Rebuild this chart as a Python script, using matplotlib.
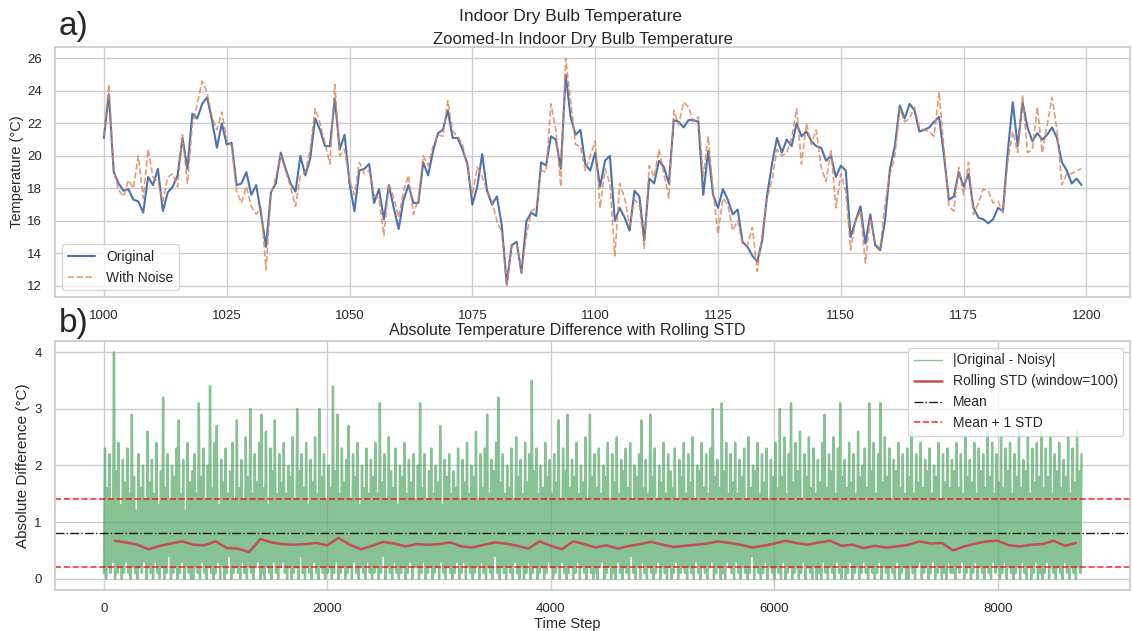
import numpy as np
import matplotlib
matplotlib.use("Agg")
import matplotlib.pyplot as plt
import seaborn as sns

sns.set_theme(style="whitegrid")
plt.rcParams["font.family"] = ["Liberation Sans", "DejaVu Sans"]

# zoomed window, time steps 1000-1199
zoom_start = 1000
temp_original = [
    21.1, 23.8, 19.0, 18.3, 17.85, 17.95, 17.3, 17.2, 16.5, 18.7,
    18.2, 19.2, 16.6, 17.75, 18.1, 18.8, 21.1, 19.2, 22.6, 22.3,
    23.2, 23.6, 22.2, 20.5, 22.0, 20.7, 20.8, 18.2, 18.3, 19.0,
    17.6, 18.2, 16.4, 14.4, 17.75, 18.3, 20.2, 19.2, 18.3, 17.8,
    20.0, 18.8, 19.85, 22.3, 21.6, 20.6, 20.6, 23.5, 20.4, 21.3,
    18.3, 16.6, 19.1, 19.2, 19.5, 17.1, 17.95, 16.1, 18.2, 16.8,
    15.5, 17.3, 18.2, 17.1, 17.1, 19.6, 18.8, 20.3, 21.4, 21.6,
    22.8, 21.1, 21.1, 20.4, 19.5, 17.0, 18.1, 20.1, 17.85, 17.0,
    17.5, 15.7, 12.1, 14.5, 14.7, 12.8, 16.0, 16.5, 16.3, 19.6,
    19.4, 21.2, 21.0, 19.2, 25.0, 22.4, 21.3, 21.6, 19.5, 19.1,
    20.2, 18.1, 19.7, 20.0, 16.0, 16.8, 16.2, 15.4, 17.85, 17.5,
    14.8, 18.6, 18.3, 19.7, 19.3, 18.3, 22.2, 22.1, 21.75, 22.2,
    22.2, 22.1, 17.6, 20.3, 17.6, 16.8, 17.95, 17.3, 16.4, 16.7,
    14.7, 14.4, 13.85, 13.5, 14.8, 17.6, 19.5, 21.1, 20.2, 21.0,
    20.6, 22.0, 21.2, 21.5, 20.9, 20.6, 20.5, 19.7, 20.0, 18.7,
    19.4, 19.1, 15.0, 16.0, 16.9, 14.6, 16.4, 14.5, 14.2, 16.0,
    19.2, 20.6, 23.1, 22.3, 23.2, 22.8, 21.5, 21.6, 21.75, 22.1,
    22.4, 20.0, 17.3, 17.5, 19.0, 18.1, 18.9, 16.8, 16.2, 16.1,
    15.85, 16.1, 16.8, 16.6, 20.3, 23.3, 20.6, 23.3, 21.75, 20.9,
    21.4, 21.0, 21.3, 21.75, 21.1, 19.6, 19.1, 18.3, 18.6, 18.2,
]
temp_noisy = [
    21.2, 24.4, 19.1, 17.9, 17.5, 18.5, 18.0, 20.0, 17.4, 20.4,
    18.7, 18.4, 17.2, 18.7, 18.9, 18.1, 21.3, 18.3, 21.9, 23.2,
    24.6, 23.9, 22.4, 21.6, 22.7, 21.0, 20.6, 17.85, 17.1, 18.1,
    16.9, 16.4, 16.8, 13.0, 17.6, 18.7, 20.0, 19.1, 18.1, 16.9,
    18.8, 19.0, 20.4, 22.9, 22.0, 20.8, 19.5, 24.4, 20.0, 20.4,
    18.5, 17.6, 19.6, 18.9, 19.1, 17.6, 17.4, 15.1, 18.3, 17.4,
    16.2, 17.85, 18.8, 16.4, 17.3, 20.0, 19.4, 20.6, 21.3, 21.2,
    23.4, 21.5, 21.2, 20.7, 19.3, 17.6, 19.3, 18.7, 17.85, 17.2,
    16.0, 15.3, 12.0, 14.4, 14.6, 12.9, 15.1, 16.6, 16.8, 19.1,
    19.0, 23.2, 21.6, 18.1, 26.0, 23.4, 20.7, 20.6, 19.1, 20.0,
    20.9, 16.8, 19.2, 18.3, 13.85, 18.3, 17.4, 15.7, 17.3, 17.0,
    14.3, 19.4, 18.7, 20.4, 18.9, 17.4, 22.8, 21.9, 23.3, 23.0,
    22.1, 22.4, 18.7, 21.2, 17.85, 15.2, 17.4, 17.0, 15.4, 16.0,
    14.6, 14.5, 15.6, 12.9, 15.2, 17.4, 18.5, 20.4, 20.0, 20.2,
    21.1, 22.9, 19.5, 22.0, 20.7, 21.6, 19.3, 18.4, 20.4, 16.8,
    18.9, 17.85, 14.2, 16.0, 16.6, 13.4, 16.2, 14.6, 14.3, 17.0,
    18.9, 20.0, 22.9, 22.1, 22.3, 23.0, 21.75, 21.6, 21.5, 21.2,
    23.95, 20.4, 16.9, 16.6, 19.3, 17.6, 19.6, 16.4, 17.1, 17.95,
    17.85, 17.1, 17.2, 16.5, 19.7, 21.5, 20.2, 23.75, 20.2, 20.4,
    23.0, 20.2, 21.9, 23.6, 21.6, 18.2, 18.9, 18.9, 19.1, 19.2,
]

# |original - noisy| over the full year, sampled every 10 steps:
# alternating low / high readings of the band
diff_troughs = [
    0.1, 0.0, 0.2, 0.1, 0.3, 0.0, 0.1, 0.2, 0.0, 0.1, 0.3, 0.1, 0.0, 0.2, 0.1, 0.0, 0.2, 0.1, 0.3, 0.0,
    0.2, 0.1, 0.0, 0.3, 0.1, 0.0, 0.2, 0.0, 0.1, 0.4, 0.0, 0.1, 0.2, 0.0, 0.1, 0.3, 0.0, 0.2, 0.1, 0.0,
    0.0, 0.2, 0.1, 0.0, 0.3, 0.1, 0.0, 0.2, 0.1, 0.0, 0.1, 0.3, 0.0, 0.2, 0.0, 0.1, 0.4, 0.0, 0.1, 0.2,
    0.1, 0.0, 0.3, 0.1, 0.0, 0.2, 0.1, 0.0, 0.2, 0.3, 0.0, 0.1, 0.0, 0.2, 0.1, 0.0, 0.3, 0.1, 0.0, 0.2,
    0.3, 0.1, 0.0, 0.2, 0.0, 0.1, 0.2, 0.0, 0.4, 0.1, 0.0, 0.2, 0.1, 0.0, 0.3, 0.1, 0.0, 0.2, 0.1, 0.0,
    0.1, 0.2, 0.0, 0.1, 0.3, 0.0, 0.1, 0.2, 0.0, 0.1, 0.2, 0.0, 0.3, 0.1, 0.0, 0.2, 0.1, 0.0, 0.3, 0.1,
    0.0, 0.1, 0.2, 0.0, 0.1, 0.4, 0.0, 0.2, 0.1, 0.0, 0.3, 0.1, 0.0, 0.1, 0.2, 0.0, 0.1, 0.3, 0.0, 0.2,
    0.2, 0.0, 0.1, 0.3, 0.0, 0.1, 0.2, 0.0, 0.1, 0.2, 0.0, 0.3, 0.1, 0.0, 0.2, 0.1, 0.0, 0.1, 0.3, 0.0,
    0.1, 0.3, 0.0, 0.2, 0.1, 0.0, 0.1, 0.2, 0.0, 0.3, 0.1, 0.0, 0.2, 0.1, 0.0, 0.4, 0.1, 0.0, 0.2, 0.1,
    0.0, 0.2, 0.1, 0.0, 0.3, 0.1, 0.0, 0.2, 0.0, 0.1, 0.3, 0.0, 0.1, 0.2, 0.0, 0.1, 0.2, 0.0, 0.1, 0.3,
    0.2, 0.0, 0.1, 0.2, 0.0, 0.3, 0.1, 0.0, 0.1, 0.2, 0.0, 0.1, 0.3, 0.0, 0.2, 0.1, 0.0, 0.2, 0.1, 0.0,
    0.1, 0.0, 0.2, 0.3, 0.0, 0.1, 0.2, 0.0, 0.1, 0.0, 0.3, 0.1, 0.0, 0.2, 0.1, 0.0, 0.4, 0.1, 0.0, 0.2,
    0.0, 0.3, 0.1, 0.0, 0.2, 0.1, 0.0, 0.1, 0.3, 0.0, 0.2, 0.1, 0.0, 0.2, 0.0, 0.1, 0.3, 0.0, 0.1, 0.2,
    0.1, 0.0, 0.2, 0.1, 0.0, 0.3, 0.1, 0.0, 0.2, 0.1, 0.0, 0.2, 0.3, 0.0, 0.1, 0.2, 0.0, 0.1, 0.0, 0.3,
    0.2, 0.1, 0.0, 0.3, 0.1, 0.0, 0.2, 0.1, 0.0, 0.1, 0.4, 0.0, 0.2, 0.1, 0.0, 0.1, 0.3, 0.0, 0.2, 0.1,
    0.0, 0.2, 0.1, 0.0, 0.3, 0.0, 0.1, 0.2, 0.0, 0.1, 0.2, 0.0, 0.1, 0.3, 0.0, 0.2, 0.1, 0.0, 0.2, 0.0,
    0.1, 0.0, 0.3, 0.1, 0.0, 0.2, 0.1, 0.0, 0.3, 0.1, 0.0, 0.2, 0.0, 0.1, 0.3, 0.0, 0.1, 0.2, 0.0, 0.1,
    0.3, 0.1, 0.0, 0.2, 0.1, 0.0, 0.1, 0.3, 0.0, 0.2, 0.1, 0.0, 0.2, 0.1, 0.0, 0.3, 0.0, 0.1, 0.2, 0.0,
    0.0, 0.2, 0.1, 0.0, 0.2, 0.3, 0.0, 0.1, 0.2, 0.0, 0.1, 0.3, 0.0, 0.1, 0.2, 0.0, 0.1, 0.0, 0.3, 0.1,
    0.1, 0.0, 0.2, 0.1, 0.3, 0.0, 0.1, 0.2, 0.0, 0.1, 0.3, 0.0, 0.2, 0.1, 0.0, 0.2, 0.1, 0.0, 0.3, 0.1,
    0.2, 0.0, 0.1, 0.3, 0.0, 0.2, 0.1, 0.0, 0.1, 0.2, 0.0, 0.3, 0.1, 0.0, 0.2, 0.0, 0.1, 0.3, 0.0, 0.1,
    0.0, 0.1, 0.3, 0.0, 0.2, 0.1, 0.0, 0.2, 0.1, 0.0, 0.3, 0.1, 0.0, 0.2, 0.1, 0.0, 0.2, 0.1,
]
diff_peaks = [
    2.3, 1.6, 2.2, 1.4, 4.0, 1.9, 2.4, 1.3, 2.1, 1.7, 2.3, 1.5, 2.9, 1.8, 1.2, 2.2, 1.6, 2.0, 1.4, 2.6,
    1.7, 2.1, 1.5, 2.4, 1.3, 1.9, 3.2, 1.6, 2.2, 1.4, 2.0, 1.8, 2.3, 2.8, 1.5, 2.1, 1.2, 2.4, 1.7, 1.9,
    2.2, 1.5, 3.1, 1.8, 2.3, 1.4, 2.0, 3.4, 1.6, 2.4, 2.7, 1.3, 2.1, 1.7, 2.3, 1.5, 1.9, 2.4, 1.4, 2.8,
    1.6, 2.1, 1.4, 2.5, 1.8, 3.0, 1.5, 2.2, 1.7, 2.4, 2.9, 1.6, 2.6, 1.3, 2.3, 1.9, 2.8, 1.5, 2.2, 1.7,
    2.4, 1.5, 2.0, 1.8, 2.5, 1.4, 3.0, 1.9, 2.2, 1.6, 2.4, 1.3, 2.1, 1.7, 2.5, 1.5, 3.0, 1.8, 2.2, 1.4,
    2.0, 1.6, 3.4, 1.9, 2.9, 1.5, 2.3, 1.7, 2.1, 2.7, 1.4, 2.2, 1.8, 2.4, 1.3, 2.0, 1.6, 2.3, 1.5, 2.1,
    1.8, 2.4, 1.5, 3.1, 1.7, 2.2, 1.4, 2.5, 1.9, 1.6, 2.3, 1.3, 2.0, 1.8, 2.4, 1.5, 2.1, 1.7, 2.2, 1.4,
    2.0, 3.1, 1.6, 2.2, 1.4, 1.9, 2.3, 1.5, 2.0, 1.7, 2.7, 1.3, 2.1, 1.8, 2.2, 1.5, 1.9, 1.6, 2.3, 1.4,
    2.1, 1.7, 2.4, 1.5, 2.0, 1.8, 2.6, 1.4, 2.2, 1.6, 2.3, 2.9, 1.5, 2.1, 1.9, 2.4, 3.2, 1.7, 2.2, 1.5,
    2.0, 1.6, 2.3, 1.4, 2.5, 1.8, 2.1, 1.5, 2.4, 1.7, 2.2, 3.5, 1.9, 2.3, 1.5, 2.0, 1.6, 2.4, 1.8, 2.1,
    1.5, 2.2, 1.7, 2.8, 1.4, 2.3, 1.9, 2.9, 1.6, 2.1, 1.8, 2.4, 1.5, 2.0, 1.7, 2.5, 1.4, 2.9, 1.8, 2.2,
    1.6, 2.3, 1.5, 2.0, 1.8, 2.4, 1.4, 2.2, 1.7, 2.5, 1.5, 2.1, 1.9, 2.3, 1.6, 2.4, 1.4, 2.0, 1.8, 2.2,
    2.8, 1.6, 2.1, 1.5, 2.9, 1.8, 2.3, 1.4, 2.0, 1.7, 2.4, 1.5, 2.2, 1.9, 1.6, 2.3, 1.4, 2.1, 1.8, 2.4,
    1.5, 2.2, 1.7, 2.5, 1.4, 2.0, 1.9, 2.4, 1.6, 2.2, 1.5, 2.3, 3.0, 1.8, 2.1, 1.6, 3.1, 1.9, 2.4, 1.5,
    2.2, 1.7, 2.4, 1.5, 2.1, 1.8, 2.3, 1.4, 2.5, 1.6, 2.0, 1.9, 2.4, 1.5, 2.2, 1.7, 2.3, 1.4, 2.1, 1.8,
    2.4, 1.6, 3.0, 1.8, 2.5, 1.5, 2.2, 3.1, 1.7, 2.4, 1.9, 2.6, 1.4, 2.2, 1.8, 2.5, 1.6, 2.3, 1.5, 2.1,
    1.7, 2.4, 2.9, 1.6, 2.2, 1.9, 2.5, 1.5, 2.3, 3.1, 1.8, 2.1, 1.6, 2.4, 1.7, 2.2, 1.5, 2.6, 1.8, 2.0,
    2.3, 1.6, 3.1, 1.9, 2.4, 1.5, 2.2, 3.1, 1.7, 2.5, 1.8, 2.3, 1.4, 2.1, 1.9, 2.4, 1.6, 2.2, 1.5, 2.3,
    1.8, 2.6, 1.5, 2.2, 1.7, 2.4, 1.6, 2.1, 1.9, 2.3, 1.5, 2.0, 1.8, 2.4, 1.4, 2.2, 1.7, 2.3, 1.6, 2.1,
    1.9, 2.4, 1.6, 2.2, 1.5, 2.5, 1.8, 2.1, 1.7, 2.4, 1.5, 2.3, 1.9, 2.2, 1.6, 2.6, 1.8, 2.4, 1.5, 2.2,
    1.7, 2.5, 1.6, 2.3, 1.9, 2.4, 1.5, 2.2, 1.8, 2.6, 1.6, 2.1, 1.9, 2.5, 1.5, 2.3, 1.7, 2.4, 1.8, 2.6,
    1.6, 2.3, 1.8, 2.5, 1.5, 2.2, 1.9, 2.4, 1.6, 2.1, 1.8, 2.5, 1.5, 2.3, 1.7, 2.6, 1.9, 2.2,
]

# rolling std (window=100), one reading every 100 steps from step 100
rolling_std = [
    0.67, 0.64, 0.60, 0.52, 0.58, 0.62, 0.66, 0.60, 0.59, 0.66,
    0.54, 0.53, 0.47, 0.70, 0.64, 0.61, 0.60, 0.61, 0.63, 0.59,
    0.72, 0.60, 0.52, 0.58, 0.65, 0.62, 0.57, 0.61, 0.60, 0.61,
    0.64, 0.57, 0.55, 0.60, 0.64, 0.62, 0.58, 0.53, 0.66, 0.58,
    0.52, 0.66, 0.61, 0.55, 0.59, 0.53, 0.58, 0.61, 0.65, 0.60,
    0.56, 0.58, 0.60, 0.62, 0.66, 0.63, 0.60, 0.55, 0.58, 0.62,
    0.67, 0.63, 0.60, 0.64, 0.67, 0.58, 0.60, 0.54, 0.58, 0.55,
    0.57, 0.60, 0.66, 0.62, 0.63, 0.50, 0.57, 0.62, 0.66, 0.67,
    0.59, 0.57, 0.60, 0.61, 0.67, 0.58, 0.63,
]
diff_mean = 0.80
diff_std = 0.60

zoom_steps = np.arange(zoom_start, zoom_start + len(temp_original))
abs_diff = np.column_stack([diff_troughs, diff_peaks]).ravel()
diff_steps = np.arange(len(abs_diff)) * 10
rolling_steps = np.arange(1, len(rolling_std) + 1) * 100

fig = plt.figure(figsize=(11.32, 6.31), dpi=100)
ax1 = fig.add_axes([0.0486, 0.529, 0.950, 0.3965])
ax2 = fig.add_axes([0.0486, 0.065, 0.950, 0.3946])

# a) zoomed-in temperatures
ax1.plot(zoom_steps, temp_original, color="#4c72b0", lw=1.5, label="Original")
ax1.plot(zoom_steps, temp_noisy, color="#dd8452", lw=1.2, ls="--", alpha=0.8, label="With Noise")
ax1.set_xticks(np.arange(1000, 1201, 25))
ax1.set_yticks(np.arange(12, 27, 2))
ax1.set_ylabel("Temperature (°C)", fontsize=10.5, labelpad=2)
ax1.set_title("Zoomed-In Indoor Dry Bulb Temperature", fontsize=12, pad=2, x=0.491)
ax1.legend(loc="lower left", fontsize=10)
ax1.tick_params(labelsize=9.5)

# b) absolute difference with rolling std
ax2.plot(diff_steps, abs_diff, color="#55a868", lw=1.7, alpha=0.7, label="|Original - Noisy|")
ax2.plot(rolling_steps, rolling_std, color="#c44e52", lw=1.8, label="Rolling STD (window=100)")
ax2.axhline(diff_mean, color="k", ls="-.", lw=1.0, label="Mean")
ax2.axhline(diff_mean + diff_std, color="red", ls="--", lw=1.2, alpha=0.8, label="Mean + 1 STD")
ax2.axhline(diff_mean - diff_std, color="red", ls="--", lw=1.2, alpha=0.8)
ax2.set_xticks(np.arange(0, 8001, 2000))
ax2.set_yticks(np.arange(0, 5, 1))
ax2.set_xlabel("Time Step", fontsize=10.5, labelpad=1, x=0.476)
ax2.set_ylabel("Absolute Difference (°C)", fontsize=11, labelpad=3)
ax2.set_title("Absolute Temperature Difference with Rolling STD", fontsize=11.5, pad=4, x=0.476)
leg = ax2.legend(loc="upper right", fontsize=10)
for line in leg.get_lines()[:1]:
    line.set_linewidth(1.0)
ax2.tick_params(labelsize=9.5)

fig.suptitle("Indoor Dry Bulb Temperature", fontsize=12.5, x=0.504, y=0.985)
fig.text(0.052, 0.982, "a)", fontsize=24, va="top")
fig.text(0.052, 0.512, "b)", fontsize=24, va="top")

fig.savefig("out.png", dpi=100)
